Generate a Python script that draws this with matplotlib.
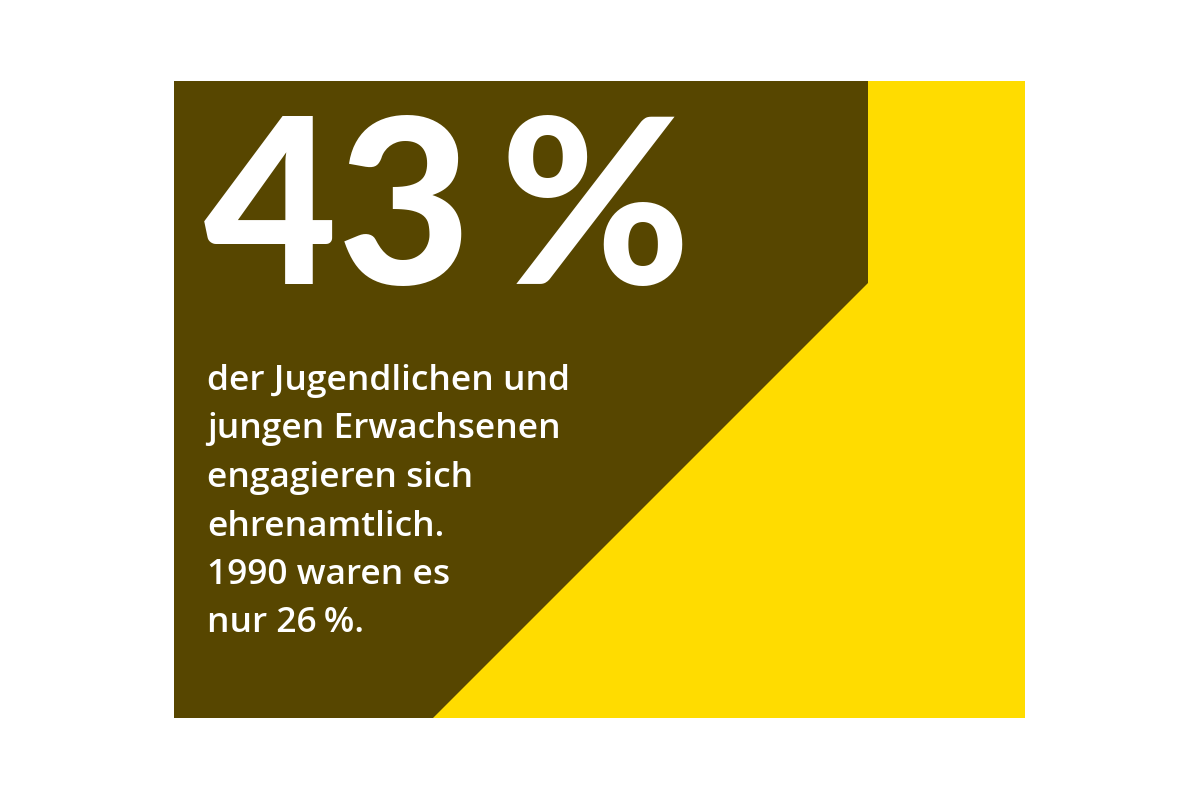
import matplotlib
matplotlib.use('Agg')
from matplotlib import pyplot as plt
from matplotlib.patches import Polygon, Rectangle

# data
share_now = 43
share_1990 = 26
headline = "{}\u2009%".format(share_now)
body_lines = [
    "der Jugendlichen und",
    "jungen Erwachsenen",
    "engagieren sich",
    "ehrenamtlich.",
    "1990 waren es",
    "nur {}\u2009%.".format(share_1990),
]

dark = "#574600"
yellow = "#FFDC00"

fig = plt.figure(figsize=(12, 8), dpi=100)
ax = fig.add_axes([0, 0, 1, 1])
ax.set_xlim(0, 1200)
ax.set_ylim(800, 0)
ax.axis("off")

# yellow card with dark corner cut at 45 degrees
ax.add_patch(Rectangle((174, 81), 851, 637, color=yellow, lw=0))
ax.add_patch(Polygon([(174, 81), (868, 81), (868, 283), (433, 718), (174, 718)],
                     closed=True, color=dark, lw=0))

ax.text(204, 284, headline, color="white", fontsize=166, fontweight="black",
        family=["Lato", "DejaVu Sans"], va="baseline", ha="left")

for i, line in enumerate(body_lines):
    ax.text(207, 390 + i * 48.5, line, color="white", fontsize=25.5,
            fontweight="semibold",
            family=["Open Sans", "DejaVu Sans"], va="baseline", ha="left")

fig.savefig("out.png", dpi=100)
